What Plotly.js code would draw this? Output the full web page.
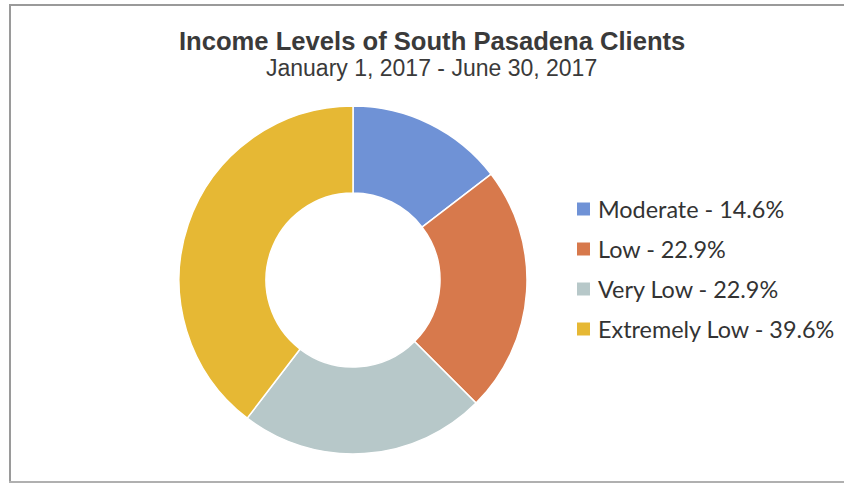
<!DOCTYPE html>
<html>
<head>
<meta charset="utf-8">
<script src="https://cdn.plot.ly/plotly-3.0.1.min.js"></script>
<style>
html,body{margin:0;padding:0;background:#fff;}
#chart{width:844px;height:484px;}
</style>
</head>
<body>
<div id="chart"></div>
<script>
// ---- data ----
const categories = ["Moderate", "Low", "Very Low", "Extremely Low"];
const percents = [14.6, 22.9, 22.9, 39.6];
const colors = ["#6f92d6", "#d7794c", "#b7c8c9", "#e6b834"];
const titleText = "Income Levels of South Pasadena Clients";
const subtitleText = "January 1, 2017 - June 30, 2017";

const W = 844, H = 484;
const px = x => x / W;
const py = y => 1 - y / H;

const cx = 353, cy = 280, R = 174;

const trace = {
  type: "pie",
  labels: categories,
  values: percents,
  sort: false,
  direction: "clockwise",
  rotation: 0,
  hole: 0.5,
  textinfo: "none",
  hoverinfo: "label+percent",
  showlegend: false,
  marker: { colors: colors, line: { color: "#ffffff", width: 1.5 } },
  domain: { x: [px(cx - R), px(cx + R)], y: [py(cy + R), py(cy - R)] }
};

const annotations = [
  { text: "<b>" + titleText + "</b>", x: px(432), y: py(41), xref: "paper", yref: "paper",
    xanchor: "center", yanchor: "middle", showarrow: false,
    font: { family: "Liberation Sans, Arial, sans-serif", size: 25.6, color: "#3a3a3a" } },
  { text: subtitleText, x: px(432), y: py(68), xref: "paper", yref: "paper",
    xanchor: "center", yanchor: "middle", showarrow: false,
    font: { family: "Liberation Sans, Arial, sans-serif", size: 23, color: "#3a3a3a" } }
];
const shapes = [
  { type: "line", xref: "paper", yref: "paper", x0: px(9), x1: 1, y0: py(5), y1: py(5),
    line: { color: "#9a9a9a", width: 2 } },
  { type: "line", xref: "paper", yref: "paper", x0: px(10), x1: px(10), y0: py(482), y1: py(5),
    line: { color: "#9a9a9a", width: 2 } },
  { type: "line", xref: "paper", yref: "paper", x0: px(9), x1: 1, y0: py(482), y1: py(482),
    line: { color: "#b0b0b0", width: 2 } }
];

const legY0 = 209, legStep = 40;
categories.forEach((c, i) => {
  const y = legY0 + i * legStep;
  annotations.push({
    text: c + " - " + percents[i].toFixed(1) + "%",
    x: px(596), y: py(y), xref: "paper", yref: "paper",
    xanchor: "left", yanchor: "middle", showarrow: false,
    font: { family: "Lato, Carlito, Calibri, sans-serif", size: 23.4, color: "#333333" }
  });
  shapes.push({
    type: "rect", xref: "paper", yref: "paper",
    x0: px(577), x1: px(590), y0: py(y + 6.5), y1: py(y - 6.5),
    fillcolor: colors[i], line: { width: 0 }
  });
});

const layout = {
  width: W, height: H,
  margin: { l: 0, r: 0, t: 0, b: 0 },
  paper_bgcolor: "#ffffff",
  showlegend: false,
  annotations: annotations,
  shapes: shapes
};

Plotly.newPlot("chart", [trace], layout, { displayModeBar: false, staticPlot: true });
</script>
</body>
</html>
